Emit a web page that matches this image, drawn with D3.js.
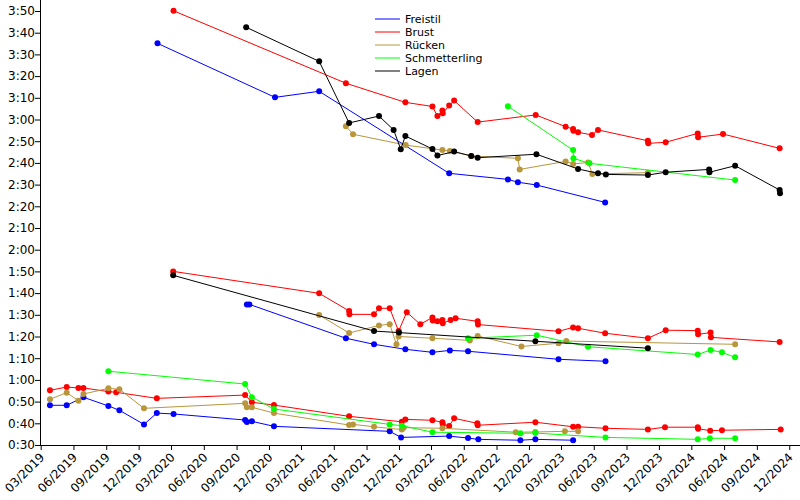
<!DOCTYPE html>
<html><head><meta charset="utf-8">
<script src="https://cdn.jsdelivr.net/npm/d3@7"></script>
<style>
body{margin:0;background:#fff;}
text{font-family:"DejaVu Sans",sans-serif;}
</style></head>
<body><svg id="c" width="800" height="500"></svg>
<script>
const strokeNames = ["Freistil","Brust","Rücken","Schmetterling","Lagen"];
const strokeColors = ["#0000ff","#ff0000","#b8963c","#00ff00","#000000"];
const xTickLabels = ["03/2019","06/2019","09/2019","12/2019","03/2020","06/2020","09/2020","12/2020","03/2021","06/2021","09/2021","12/2021","03/2022","06/2022","09/2022","12/2022","03/2023","06/2023","09/2023","12/2023","03/2024","06/2024","09/2024","12/2024"];
const yTickValues = [30,40,50,60,70,80,90,100,110,120,130,140,150,160,170,180,190,200,210,220,230];

const freistil50 = [["2019-03-27",48.3],["2019-05-13",48.3],["2019-06-29",52.0],["2019-09-07",48.0],["2019-10-08",46.0],["2019-12-16",39.5],["2020-01-21",44.7],["2020-03-08",44.3],["2020-09-25",41.5],["2020-09-30",40.6],["2020-10-14",40.9],["2020-12-15",38.6],["2021-11-05",36.3],["2021-12-07",33.5],["2022-04-21",34.1],["2022-06-13",33.2],["2022-07-12",32.6],["2022-11-07",32.2],["2022-12-19",32.6],["2023-04-04",32.2]];
const brust50 = [["2019-03-27",55.2],["2019-05-13",56.7],["2019-06-15",56.3],["2019-06-29",56.3],["2019-09-07",54.6],["2019-09-29",54.3],["2020-01-21",51.5],["2020-09-25",53.0],["2020-10-14",49.7],["2020-12-15",48.4],["2021-07-14",43.2],["2021-12-09",40.7],["2021-12-19",41.8],["2022-03-05",41.4],["2022-04-02",40.5],["2022-04-03",39.5],["2022-04-21",38.8],["2022-05-05",42.3],["2022-07-09",40.0],["2022-07-10",39.1],["2022-12-19",40.5],["2023-04-04",38.4],["2023-04-18",38.4],["2023-07-04",37.7],["2023-10-31",37.2],["2023-12-18",38.2],["2024-03-19",38.2],["2024-03-20",37.5],["2024-04-23",36.6],["2024-05-26",36.8],["2024-11-07",37.2]];
const ruecken50 = [["2019-03-27",51.1],["2019-05-13",54.1],["2019-06-15",50.4],["2019-06-29",53.5],["2019-09-07",56.1],["2019-10-08",55.7],["2019-12-16",46.9],["2020-09-25",49.2],["2020-09-30",47.4],["2020-10-14",47.4],["2020-12-15",44.7],["2021-07-14",39.2],["2021-07-25",39.5],["2021-09-22",38.4],["2021-12-09",37.1],["2021-12-14",38.0],["2022-04-02",37.7],["2022-10-25",35.9],["2022-12-19",36.0],["2023-03-12",36.3],["2023-04-18",36.3]];
const schmetterling50 = [["2019-09-07",64.0],["2020-09-25",58.1],["2020-10-14",52.0],["2020-12-15",46.6],["2021-11-05",39.5],["2021-12-09",38.9],["2022-03-05",35.9],["2022-11-07",35.4],["2022-12-19",35.5],["2023-07-04",33.5],["2024-03-19",32.6],["2024-04-22",33.1],["2024-07-02",33.1]];

const freistil100 = [["2020-09-30",94.8],["2020-10-07",94.8],["2021-07-05",79.2],["2021-09-22",76.4],["2021-12-19",74.1],["2022-03-05",72.7],["2022-04-23",73.6],["2022-06-13",73.2],["2023-02-22",69.5],["2023-07-04",68.6]];
const brust100 = [["2020-03-07",110.0],["2021-04-21",99.9],["2021-07-14",91.8],["2021-07-15",90.2],["2021-09-22",90.2],["2021-10-06",93.0],["2021-11-05",93.0],["2021-11-30",82.5],["2021-12-23",91.2],["2022-01-30",85.6],["2022-03-05",88.8],["2022-03-06",87.4],["2022-03-19",87.0],["2022-04-02",87.6],["2022-04-03",86.1],["2022-04-25",87.6],["2022-05-09",88.4],["2022-07-10",87.0],["2022-07-11",85.5],["2023-02-22",82.4],["2023-04-04",84.2],["2023-04-18",83.8],["2023-07-03",81.5],["2023-10-31",79.2],["2023-12-20",82.9],["2024-03-19",82.7],["2024-03-20",81.0],["2024-04-24",81.8],["2024-04-25",79.6],["2024-11-04",77.5]];
const ruecken100 = [["2021-04-21",89.9],["2021-07-14",81.6],["2021-10-06",85.1],["2021-11-05",85.7],["2021-11-24",76.4],["2021-11-30",80.0],["2022-03-05",79.2],["2022-06-18",78.2],["2022-07-10",80.2],["2022-11-10",75.4],["2023-02-22",76.9],["2023-03-16",77.9],["2024-07-02",76.4]];
const schmetterling100 = [["2022-06-13",79.2],["2022-12-23",80.6],["2023-05-16",75.3],["2024-03-19",71.7],["2024-04-24",73.8],["2024-05-26",72.7],["2024-07-02",70.4]];
const lagen100 = [["2020-03-07",108.2],["2021-09-22",82.5],["2021-12-01",81.8],["2022-12-19",77.8],["2023-10-31",74.6]];

const freistil200 = [["2020-01-23",215.1],["2020-12-18",190.2],["2021-04-21",193.0],["2022-04-21",155.2],["2022-10-03",152.4],["2022-10-31",151.1],["2022-12-23",149.8],["2023-07-03",141.8]];
const brust200 = [["2020-03-08",230.1],["2021-07-05",196.7],["2021-12-19",187.9],["2022-03-05",186.0],["2022-03-19",181.6],["2022-04-02",184.1],["2022-04-03",182.9],["2022-04-21",186.4],["2022-05-05",188.7],["2022-07-10",178.8],["2022-12-20",182.1],["2023-03-14",176.7],["2023-04-04",175.6],["2023-04-05",174.8],["2023-04-18",174.1],["2023-05-27",172.9],["2023-06-13",175.2],["2023-10-31",170.2],["2023-11-01",169.0],["2023-12-20",169.5],["2024-03-19",173.6],["2024-03-20",171.8],["2024-05-29",173.3],["2024-11-04",166.7]];
const ruecken200 = [["2021-07-05",176.9],["2021-07-25",173.2],["2021-12-20",168.2],["2022-04-02",165.9],["2022-04-23",165.5],["2022-06-22",163.2],["2022-10-31",162.1],["2022-11-05",157.0],["2023-03-14",160.7],["2023-04-04",159.5],["2023-05-16",160.2],["2023-05-28",154.9],["2023-10-31",155.5]];
const schmetterling200 = [["2022-10-03",186.1],["2023-04-04",165.9],["2023-04-05",162.1],["2023-05-20",159.8],["2024-07-02",152.1]];
const lagen200 = [["2020-09-28",222.5],["2021-04-21",206.8],["2021-07-14",178.4],["2021-10-06",181.6],["2021-11-16",175.2],["2021-12-06",166.3],["2021-12-19",172.4],["2022-03-05",166.4],["2022-03-19",163.4],["2022-05-05",165.2],["2022-06-22",163.2],["2022-07-10",162.4],["2022-12-22",164.0],["2023-04-18",157.2],["2023-06-13",155.2],["2023-07-05",154.7],["2023-10-31",154.4],["2023-12-20",155.7],["2024-04-20",157.0],["2024-04-21",155.7],["2024-07-02",158.7],["2024-11-04",147.5],["2024-11-05",146.0]];

const seriesByStroke = [
  [freistil50, freistil100, freistil200],
  [brust50, brust100, brust200],
  [ruecken50, ruecken100, ruecken200],
  [schmetterling50, schmetterling100, schmetterling200],
  [lagen100, lagen200]
];

const parseDay = d3.utcParse("%Y-%m-%d");
const parseTick = d3.utcParse("%m/%Y");
const svg = d3.select("#c");

const x = d3.scaleUtc().domain([parseDay("2019-03-01"), parseDay("2025-01-01")]).range([40.7, 800.3]);
const y = d3.scaleLinear().domain([30, 230]).range([445, 11]);
const fmtTime = s => Math.floor(s/60) + ":" + String(Math.round(s%60)).padStart(2,"0");

// axes
const xAxis = svg.append("g").attr("transform","translate(0,445)")
  .call(d3.axisBottom(x).tickValues(xTickLabels.map(parseTick)).tickFormat(d3.utcFormat("%m/%Y")).tickSizeOuter(0).tickSize(5));
xAxis.select(".domain").attr("d","M40,0.5H800");
xAxis.selectAll("text").attr("font-size",12).attr("font-family","DejaVu Sans")
  .attr("text-anchor","end").attr("dy",null).attr("y",0)
  .attr("transform","translate(4,13) rotate(-45)");
xAxis.selectAll(".tick line").attr("stroke","#000");

const yAxis = svg.append("g").attr("transform","translate(40,0)")
  .call(d3.axisLeft(y).tickValues(yTickValues).tickFormat(fmtTime).tickSizeOuter(0).tickSize(5));
yAxis.select(".domain").attr("d","M0.5,445V0");
yAxis.selectAll("text").attr("font-size",12).attr("font-family","DejaVu Sans").attr("x",-5);

const line = d3.line().x(d => x(parseDay(d[0]))).y(d => y(d[1]));
const plot = svg.append("g");
seriesByStroke.forEach((group, i) => {
  group.forEach(series => {
    plot.append("path").datum(series).attr("d", line)
      .attr("fill","none").attr("stroke", strokeColors[i]).attr("stroke-width",1);
    plot.selectAll(null).data(series).enter().append("circle")
      .attr("cx", d => x(parseDay(d[0]))).attr("cy", d => y(d[1])).attr("r", 3)
      .attr("fill", strokeColors[i]);
  });
});

// legend
const lg = svg.append("g");
strokeNames.forEach((n, i) => {
  const yy = 19 + i * 13;
  lg.append("line").attr("x1",375).attr("x2",400).attr("y1",yy).attr("y2",yy)
    .attr("stroke", strokeColors[i]).attr("stroke-width",1);
  lg.append("text").attr("x",405).attr("y",yy).attr("dy","0.35em")
    .attr("font-size",11).attr("textLength", null).text(n);
});
</script></body></html>
